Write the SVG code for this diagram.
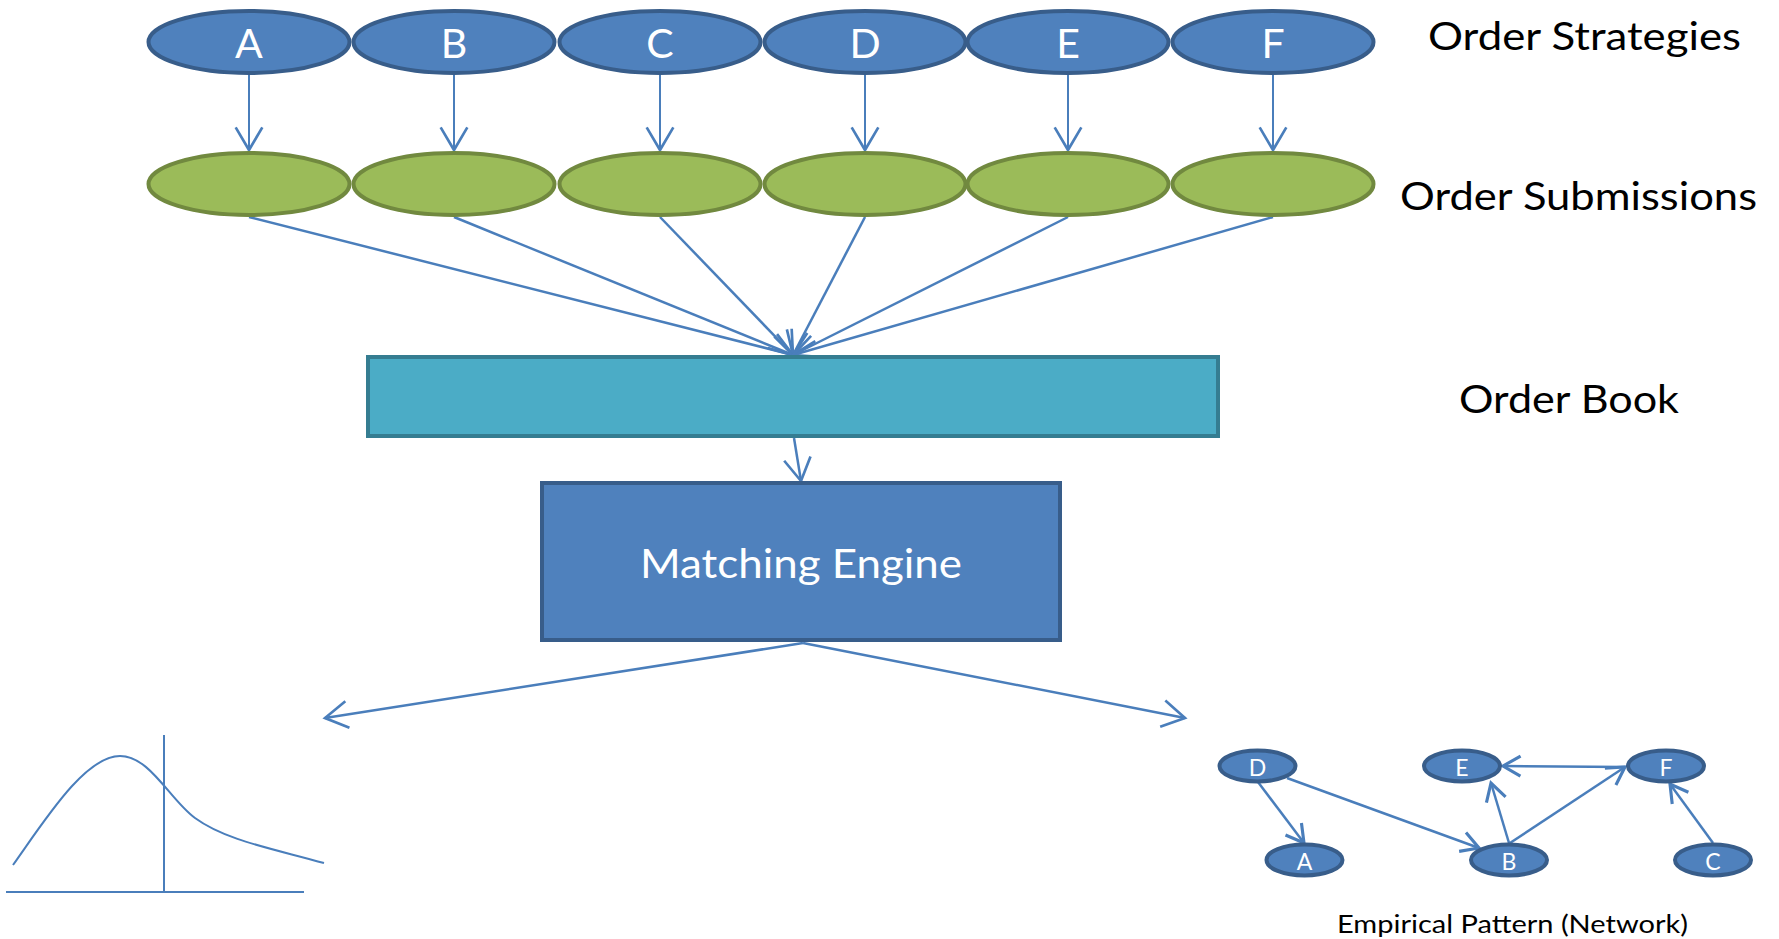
<svg xmlns="http://www.w3.org/2000/svg" width="1779" height="939" viewBox="0 0 1779 939">
<style>
.strat{fill:#4F81BD;stroke:#385D8A;stroke-width:4}
.sub{fill:#9BBB59;stroke:#71893F;stroke-width:4}
.book{fill:#4BACC6;stroke:#357D91;stroke-width:4}
.eng{fill:#4F81BD;stroke:#385D8A;stroke-width:4}
.net{fill:#4F81BD;stroke:#385D8A;stroke-width:4}
.wl{font-family:Lato,"Open Sans","Liberation Sans",sans-serif;fill:#FFFFFF;text-anchor:middle}
.bl{font-family:Lato,"Open Sans","Liberation Sans",sans-serif;fill:#000000}
.ln{stroke:#4A7EBB;fill:none}
</style>
<defs>
<marker id="ah" markerUnits="userSpaceOnUse" markerWidth="40" markerHeight="40" viewBox="-20 -15 25 30" refX="0" refY="0" orient="auto">
<path d="M-17,-10 L0,0 L-17,10" fill="none" stroke="#4A7EBB" stroke-width="2"/>
</marker>
<marker id="ahs" markerUnits="userSpaceOnUse" markerWidth="30" markerHeight="30" viewBox="-16 -12 20 24" refX="0" refY="0" orient="auto">
<path d="M-14,-8 L0,0 L-14,8" fill="none" stroke="#4A7EBB" stroke-width="2.5"/>
</marker>
</defs>
<g id="connectors">
<g class="ln" stroke-width="2" marker-end="url(#ah)">
<line x1="249" y1="75" x2="249" y2="150"/>
<line x1="454" y1="75" x2="454" y2="150"/>
<line x1="660" y1="75" x2="660" y2="150"/>
<line x1="865" y1="75" x2="865" y2="150"/>
<line x1="1068" y1="75" x2="1068" y2="150"/>
<line x1="1273" y1="75" x2="1273" y2="150"/>
</g>
<g class="ln" stroke-width="2.5" marker-end="url(#ah)">
<line x1="249" y1="217" x2="793" y2="355"/>
<line x1="454" y1="217" x2="793" y2="355"/>
<line x1="660" y1="217" x2="793" y2="355"/>
<line x1="865" y1="217" x2="793" y2="355"/>
<line x1="1068" y1="217" x2="793" y2="355"/>
<line x1="1273" y1="217" x2="793" y2="355"/>
<line x1="794" y1="438" x2="801" y2="481"/>
<line x1="803" y1="643" x2="325" y2="718"/>
<line x1="803" y1="643" x2="1185" y2="718"/>
</g>
<g class="ln" stroke-width="2.5" marker-end="url(#ahs)">
<line x1="1258" y1="782" x2="1304" y2="843"/>
<line x1="1287" y1="778" x2="1479" y2="848"/>
<line x1="1509" y1="843" x2="1491" y2="783"/>
<line x1="1510" y1="843" x2="1625" y2="767"/>
<line x1="1625" y1="767" x2="1503" y2="766"/>
<line x1="1713" y1="843" x2="1670" y2="784"/>
</g>
</g>
<g id="strategies">
<g id="strat-A"><ellipse class="strat" cx="249" cy="42" rx="100.5" ry="31"/><text class="wl" x="249" y="57.5" font-size="41">A</text></g>
<g id="strat-B"><ellipse class="strat" cx="454" cy="42" rx="100.5" ry="31"/><text class="wl" x="454" y="57.5" font-size="41">B</text></g>
<g id="strat-C"><ellipse class="strat" cx="660" cy="42" rx="100.5" ry="31"/><text class="wl" x="660" y="57.5" font-size="41">C</text></g>
<g id="strat-D"><ellipse class="strat" cx="865" cy="42" rx="100.5" ry="31"/><text class="wl" x="865" y="57.5" font-size="41">D</text></g>
<g id="strat-E"><ellipse class="strat" cx="1068" cy="42" rx="100.5" ry="31"/><text class="wl" x="1068" y="57.5" font-size="41">E</text></g>
<g id="strat-F"><ellipse class="strat" cx="1273" cy="42" rx="100.5" ry="31"/><text class="wl" x="1273" y="57.5" font-size="41">F</text></g>
</g>
<g id="submissions">
<g id="sub-A"><ellipse class="sub" cx="249" cy="184" rx="100.5" ry="31"/></g>
<g id="sub-B"><ellipse class="sub" cx="454" cy="184" rx="100.5" ry="31"/></g>
<g id="sub-C"><ellipse class="sub" cx="660" cy="184" rx="100.5" ry="31"/></g>
<g id="sub-D"><ellipse class="sub" cx="865" cy="184" rx="100.5" ry="31"/></g>
<g id="sub-E"><ellipse class="sub" cx="1068" cy="184" rx="100.5" ry="31"/></g>
<g id="sub-F"><ellipse class="sub" cx="1273" cy="184" rx="100.5" ry="31"/></g>
</g>
<g id="order-book"><rect class="book" x="368" y="357" width="850" height="79"/></g>
<g id="matching-engine"><rect class="eng" x="542" y="483" width="518" height="157"/><text class="wl" x="801" y="578" font-size="41" textLength="322" lengthAdjust="spacingAndGlyphs">Matching Engine</text></g>
<g id="labels">
<text class="bl" x="1428" y="49.5" font-size="38" textLength="313" lengthAdjust="spacingAndGlyphs">Order Strategies</text>
<text class="bl" x="1400" y="210" font-size="38" textLength="357" lengthAdjust="spacingAndGlyphs">Order Submissions</text>
<text class="bl" x="1459" y="413" font-size="38" textLength="220" lengthAdjust="spacingAndGlyphs">Order Book</text>
<text class="bl" x="1337" y="933" font-size="25" textLength="351" lengthAdjust="spacingAndGlyphs">Empirical Pattern (Network)</text>
</g>
<g id="distribution" class="ln" stroke-width="2">
<path d="M13,865 C45,820 85,756 120,756 C150,756 170,800 195,818 C225,840 270,848 324,863"/>
<line x1="164" y1="735" x2="164" y2="892"/>
<line x1="6" y1="892" x2="304" y2="892"/>
</g>
<g id="network">
<g id="net-D"><ellipse class="net" cx="1257.5" cy="766" rx="38" ry="15.5"/><text class="wl" x="1257.5" y="775.5" font-size="23">D</text></g>
<g id="net-E"><ellipse class="net" cx="1462" cy="766" rx="38" ry="15.5"/><text class="wl" x="1462" y="775.5" font-size="23">E</text></g>
<g id="net-F"><ellipse class="net" cx="1666" cy="766" rx="38" ry="15.5"/><text class="wl" x="1666" y="775.5" font-size="23">F</text></g>
<g id="net-A"><ellipse class="net" cx="1304.5" cy="860" rx="38" ry="15.5"/><text class="wl" x="1304.5" y="869.5" font-size="23">A</text></g>
<g id="net-B"><ellipse class="net" cx="1509" cy="860" rx="38" ry="15.5"/><text class="wl" x="1509" y="869.5" font-size="23">B</text></g>
<g id="net-C"><ellipse class="net" cx="1713" cy="860" rx="38" ry="15.5"/><text class="wl" x="1713" y="869.5" font-size="23">C</text></g>
</g>
</svg>
